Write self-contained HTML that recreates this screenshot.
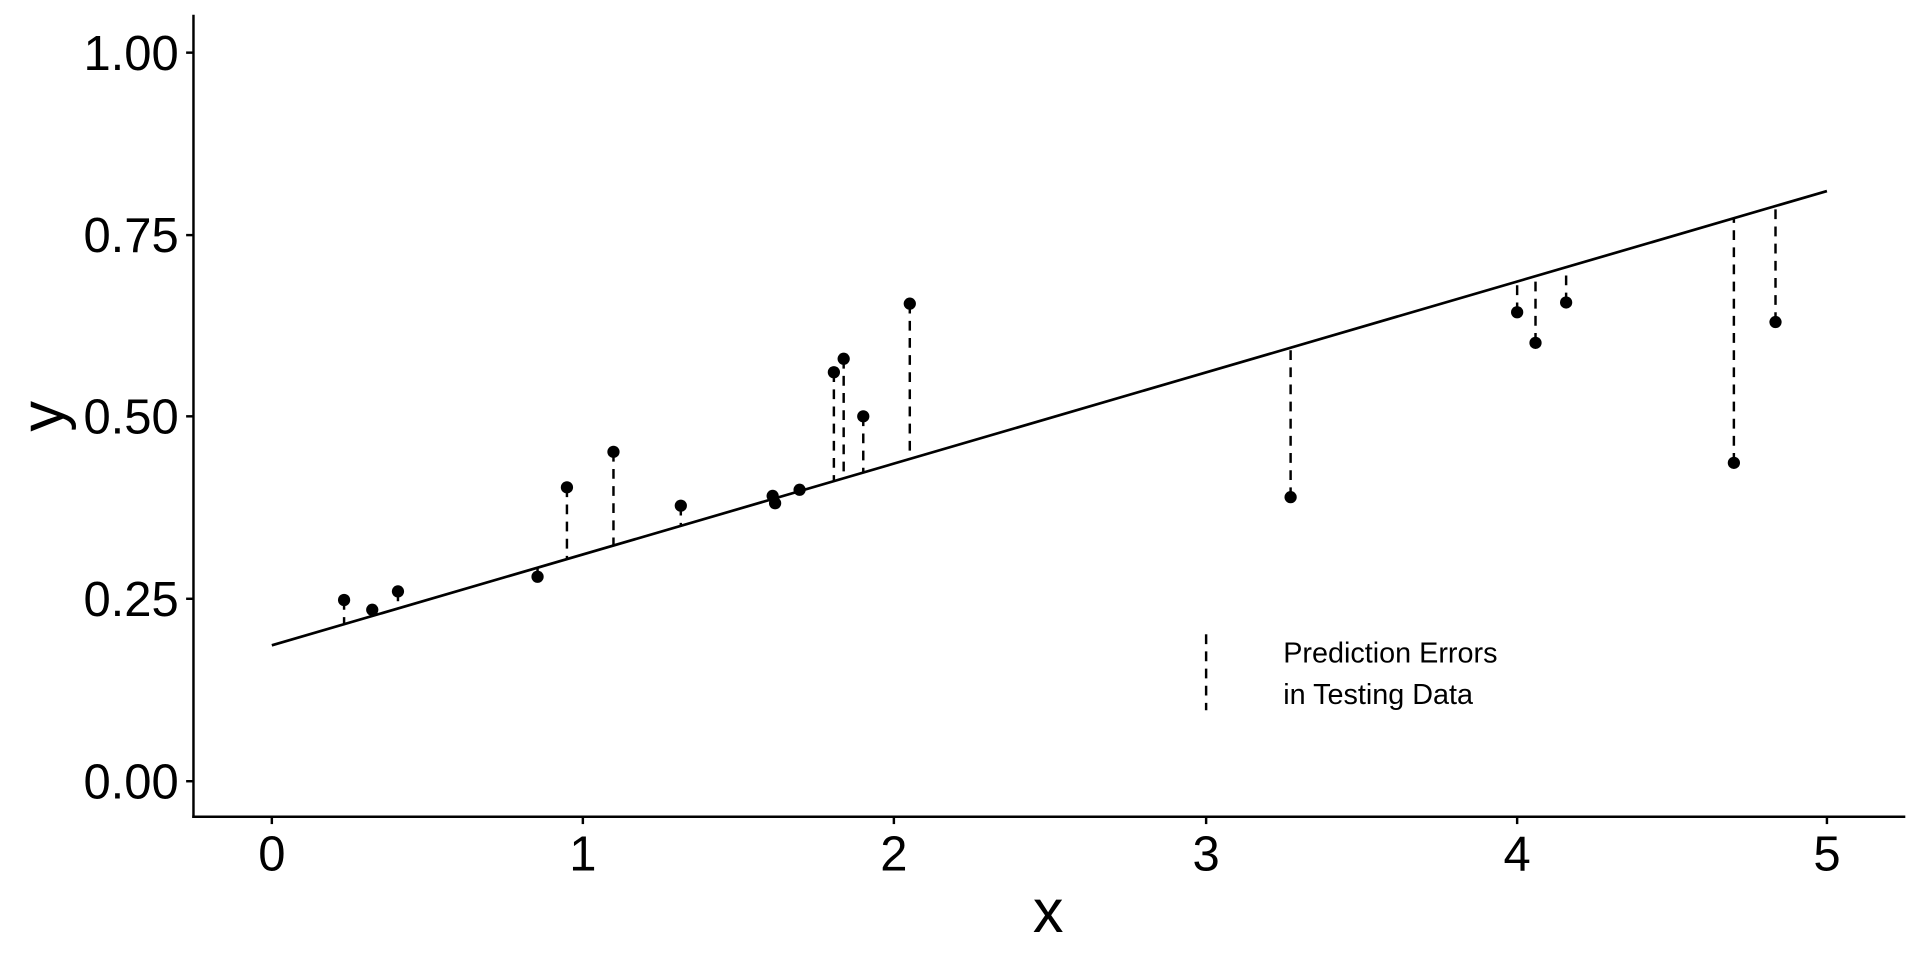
<!DOCTYPE html>
<html><head><meta charset="utf-8"><style>
html,body{margin:0;padding:0;background:#fff;}
svg{display:block;}
text{font-family:"Liberation Sans",Arial,sans-serif;fill:#000;}
</style></head><body>
<svg width="1920" height="960" viewBox="0 0 1568 784" xmlns="http://www.w3.org/2000/svg">
<rect width="1568" height="784" fill="#fff"/>
<g stroke="#000" stroke-width="2" stroke-dasharray="8,6" fill="none">
<line x1="281" y1="490" x2="281" y2="509.8"/>
<line x1="304" y1="498" x2="304" y2="503"/>
<line x1="325" y1="483" x2="325" y2="496.9"/>
<line x1="439" y1="471" x2="439" y2="463.6"/>
<line x1="463" y1="398" x2="463" y2="456.6"/>
<line x1="501" y1="369" x2="501" y2="445.5"/>
<line x1="556" y1="413" x2="556" y2="429.4"/>
<line x1="631" y1="405" x2="631" y2="407.5"/>
<line x1="653" y1="400" x2="653" y2="401.1"/>
<line x1="681" y1="304" x2="681" y2="392.9"/>
<line x1="689" y1="293" x2="689" y2="390.6"/>
<line x1="705" y1="340" x2="705" y2="385.9"/>
<line x1="743" y1="248" x2="743" y2="374.8"/>
<line x1="1054" y1="406" x2="1054" y2="283.9"/>
<line x1="1239" y1="255" x2="1239" y2="229.9"/>
<line x1="1254" y1="280" x2="1254" y2="225.5"/>
<line x1="1279" y1="247" x2="1279" y2="218.2"/>
<line x1="1416" y1="378" x2="1416" y2="178.2"/>
<line x1="1450" y1="263" x2="1450" y2="168.3"/>
<line x1="985" y1="518" x2="985" y2="580"/>
</g>
<line x1="222" y1="527" x2="1492" y2="156" stroke="#000" stroke-width="2.2"/>
<g fill="#000">
<circle cx="281" cy="490" r="5"/><circle cx="304" cy="498" r="5"/><circle cx="325" cy="483" r="5"/>
<circle cx="439" cy="471" r="5"/><circle cx="463" cy="398" r="5"/><circle cx="501" cy="369" r="5"/>
<circle cx="556" cy="413" r="5"/><circle cx="631" cy="405" r="5"/><circle cx="633" cy="411" r="5"/>
<circle cx="653" cy="400" r="5"/><circle cx="681" cy="304" r="5"/><circle cx="689" cy="293" r="5"/>
<circle cx="705" cy="340" r="5"/><circle cx="743" cy="248" r="5"/><circle cx="1054" cy="406" r="5"/>
<circle cx="1239" cy="255" r="5"/><circle cx="1254" cy="280" r="5"/><circle cx="1279" cy="247" r="5"/>
<circle cx="1416" cy="378" r="5"/><circle cx="1450" cy="263" r="5"/>
</g>
<g stroke="#000" stroke-width="2" fill="none">
<line x1="158" y1="12" x2="158" y2="668"/>
<line x1="157" y1="667" x2="1556" y2="667"/>
<line x1="152" y1="43" x2="158" y2="43"/>
<line x1="152" y1="192" x2="158" y2="192"/>
<line x1="152" y1="340" x2="158" y2="340"/>
<line x1="152" y1="489" x2="158" y2="489"/>
<line x1="152" y1="638" x2="158" y2="638"/>
<line x1="222" y1="667" x2="222" y2="673"/>
<line x1="476" y1="667" x2="476" y2="673"/>
<line x1="730" y1="667" x2="730" y2="673"/>
<line x1="985" y1="667" x2="985" y2="673"/>
<line x1="1239" y1="667" x2="1239" y2="673"/>
<line x1="1492" y1="667" x2="1492" y2="673"/>
</g>
<g font-size="40" text-anchor="end">
<text x="146" y="57">1.00</text>
<text x="146" y="206">0.75</text>
<text x="146" y="354">0.50</text>
<text x="146" y="503">0.25</text>
<text x="146" y="652">0.00</text>
</g>
<g font-size="40" text-anchor="middle">
<text x="222" y="711">0</text>
<text x="476" y="711">1</text>
<text x="730" y="711">2</text>
<text x="985" y="711">3</text>
<text x="1239" y="711">4</text>
<text x="1492" y="711">5</text>
</g>
<text x="856" y="761" font-size="50" text-anchor="middle">x</text>
<text transform="translate(52,340) rotate(-90)" font-size="50" text-anchor="middle">y</text>
<text x="1048" y="541" font-size="23.5">Prediction Errors</text>
<text x="1048" y="575" font-size="23.5">in Testing Data</text>
</svg>
</body></html>
